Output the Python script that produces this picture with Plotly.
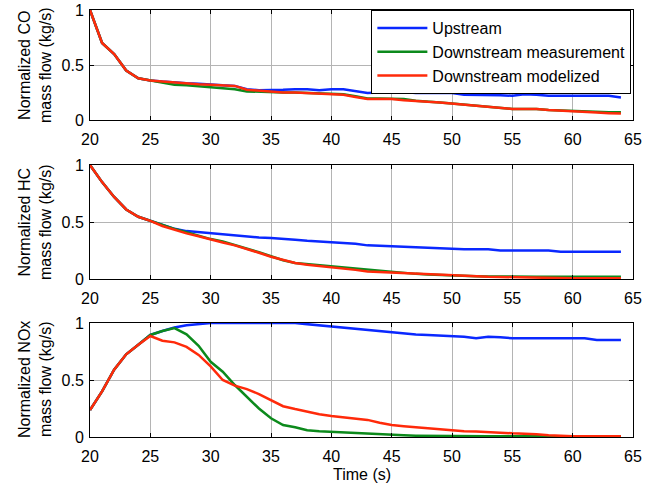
import plotly.graph_objects as go

time = list(range(20, 65))

co_upstream = [1.0, 0.70, 0.60, 0.45, 0.38, 0.36, 0.35, 0.34, 0.335, 0.33, 0.32, 0.315, 0.31, 0.28, 0.27,
               0.27, 0.275, 0.28, 0.28, 0.27, 0.28, 0.28, 0.26, 0.245, 0.25, 0.26, 0.255, 0.245, 0.245, 0.245,
               0.245, 0.23, 0.23, 0.23, 0.225, 0.22, 0.235, 0.23, 0.22, 0.22, 0.22, 0.22, 0.22, 0.22, 0.205]
co_down_meas = [1.0, 0.70, 0.60, 0.45, 0.38, 0.36, 0.34, 0.32, 0.315, 0.305, 0.295, 0.285, 0.28, 0.26, 0.255,
                0.25, 0.25, 0.25, 0.245, 0.24, 0.235, 0.235, 0.215, 0.195, 0.195, 0.195, 0.19, 0.175, 0.17, 0.16,
                0.15, 0.14, 0.13, 0.125, 0.115, 0.10, 0.10, 0.10, 0.09, 0.085, 0.083, 0.075, 0.07, 0.07, 0.07]
co_down_model = [1.0, 0.70, 0.60, 0.45, 0.38, 0.36, 0.35, 0.34, 0.335, 0.325, 0.32, 0.315, 0.31, 0.275, 0.265,
                 0.255, 0.25, 0.25, 0.245, 0.24, 0.23, 0.23, 0.21, 0.19, 0.19, 0.19, 0.18, 0.17, 0.165, 0.16,
                 0.15, 0.14, 0.13, 0.125, 0.115, 0.10, 0.10, 0.10, 0.09, 0.083, 0.08, 0.075, 0.068, 0.062, 0.058]

hc_upstream = [1.0, 0.85, 0.72, 0.61, 0.546, 0.51, 0.47, 0.44, 0.42, 0.41, 0.40, 0.39, 0.385, 0.375, 0.365,
               0.36, 0.355, 0.345, 0.335, 0.33, 0.325, 0.32, 0.31, 0.295, 0.29, 0.29, 0.28, 0.28, 0.275, 0.27,
               0.263, 0.26, 0.26, 0.26, 0.25, 0.25, 0.25, 0.25, 0.25, 0.24, 0.24, 0.24, 0.24, 0.24, 0.24]
hc_down_meas = [1.0, 0.85, 0.72, 0.61, 0.546, 0.51, 0.475, 0.44, 0.41, 0.38, 0.35, 0.33, 0.30, 0.27, 0.235,
                0.20, 0.165, 0.14, 0.13, 0.12, 0.115, 0.10, 0.09, 0.08, 0.07, 0.06, 0.055, 0.045, 0.04, 0.035,
                0.032, 0.03, 0.025, 0.022, 0.02, 0.02, 0.02, 0.02, 0.02, 0.02, 0.02, 0.02, 0.02, 0.02, 0.02]
hc_down_model = [1.0, 0.85, 0.72, 0.61, 0.546, 0.51, 0.465, 0.43, 0.40, 0.375, 0.345, 0.32, 0.295, 0.265, 0.23,
                 0.195, 0.165, 0.14, 0.125, 0.115, 0.105, 0.095, 0.08, 0.065, 0.06, 0.055, 0.05, 0.045, 0.04, 0.035,
                 0.032, 0.028, 0.022, 0.02, 0.018, 0.016, 0.012, 0.006, 0.006, 0.006, 0.006, 0.006, 0.006, 0.006, 0.006]

nox_upstream = [0.237, 0.40, 0.59, 0.725, 0.81, 0.895, 0.93, 0.96, 0.98, 0.99, 1.0, 1.0, 1.0, 1.0, 1.0,
                1.0, 1.0, 1.0, 0.99, 0.98, 0.97, 0.96, 0.95, 0.935, 0.925, 0.915, 0.91, 0.90, 0.895, 0.89,
                0.88, 0.88, 0.866, 0.88, 0.875, 0.866, 0.866, 0.866, 0.866, 0.866, 0.866, 0.866, 0.85, 0.85, 0.85]
nox_down_meas = [0.237, 0.40, 0.59, 0.725, 0.81, 0.895, 0.93, 0.955, 0.90, 0.80, 0.66, 0.573, 0.456, 0.354, 0.25,
                 0.164, 0.105, 0.085, 0.06, 0.05, 0.045, 0.04, 0.03, 0.025, 0.02, 0.017, 0.015, 0.012, 0.01, 0.008,
                 0.006, 0.006, 0.006, 0.006, 0.006, 0.006, 0.006, 0.006, 0.006, 0.006, 0.006, 0.006, 0.006, 0.006, 0.006]
nox_down_model = [0.237, 0.40, 0.59, 0.725, 0.81, 0.886, 0.845, 0.83, 0.79, 0.72, 0.62, 0.50, 0.45, 0.42, 0.377,
                  0.32, 0.27, 0.245, 0.22, 0.20, 0.185, 0.175, 0.164, 0.15, 0.125, 0.105, 0.095, 0.085, 0.075, 0.065,
                  0.055, 0.05, 0.048, 0.045, 0.038, 0.032, 0.03, 0.025, 0.015, 0.008, 0.006, 0.006, 0.006, 0.006, 0.006]

series_names = ["Upstream", "Downstream measurement", "Downstream modelized"]
colors = ["#0a28ff", "#0c8a1c", "#ff2a0a"]
panels = [
    ("Normalized CO<br>mass flow (kg/s)", [co_upstream, co_down_meas, co_down_model]),
    ("Normalized HC<br>mass flow (kg/s)", [hc_upstream, hc_down_meas, hc_down_model]),
    ("Normalized NOx<br>mass flow (kg/s)", [nox_upstream, nox_down_meas, nox_down_model]),
]
x_ticks = [20, 25, 30, 35, 40, 45, 50, 55, 60, 65]
y_ticks = [0, 0.5, 1]
y_ticklabels = ["0", "0.5", "1"]

FONT = "Liberation Sans, Arial, sans-serif"
FS = 16
W, H = 655, 485
ML, MR, MT, MB = 90, 22, 10, 48
ph = H - MT - MB
# panel pixel extents (top, bottom) in page px
panel_px = [(10, 120), (165, 279), (323, 437)]

fig = go.Figure()
layout = dict(
    width=W, height=H,
    margin=dict(l=ML, r=MR, t=MT, b=MB, pad=0, autoexpand=False),
    paper_bgcolor="white", plot_bgcolor="white",
    font=dict(family=FONT, size=FS, color="black"),
    showlegend=True,
    legend=dict(x=0.997, y=1.0, xanchor="right", yanchor="top",
                bordercolor="black", borderwidth=1, bgcolor="white",
                font=dict(family=FONT, size=FS, color="black"),
                tracegroupgap=0, itemwidth=50),
    annotations=[],
)

for i, (ytitle, ys) in enumerate(panels):
    n = i + 1
    xa = "x" if n == 1 else f"x{n}"
    ya = "y" if n == 1 else f"y{n}"
    for j, vals in enumerate(ys):
        fig.add_trace(go.Scatter(
            x=time, y=vals, mode="lines", name=series_names[j],
            line=dict(color=colors[j], width=2.5),
            xaxis=xa, yaxis=ya, showlegend=(n == 1), legendgroup=f"g{j}",
        ))
    top, bot = panel_px[i]
    dom = [(H - MB - bot) / ph, (H - MB - top) / ph]
    axcommon = dict(showline=True, linecolor="black", linewidth=1, mirror="ticks",
                    ticks="inside", ticklen=4, tickcolor="black", tickwidth=1,
                    showgrid=True, gridcolor="#b4b4b4", gridwidth=1, zeroline=False,
                    automargin=False,
                    tickfont=dict(family=FONT, size=FS, color="black"))
    layout["xaxis" if n == 1 else f"xaxis{n}"] = dict(
        domain=[0, 1], range=[20, 65], tickvals=x_ticks, anchor=ya,
        ticklabelstandoff=5, **axcommon)
    layout["yaxis" if n == 1 else f"yaxis{n}"] = dict(
        domain=dom, range=[0, 1], tickvals=y_ticks, ticktext=y_ticklabels, anchor=xa,
        ticklabelstandoff=2, **axcommon)
    layout["annotations"].append(dict(
        text=ytitle, xref="paper", yref="paper",
        x=(35 - ML) / (W - ML - MR), y=(dom[0] + dom[1]) / 2,
        xanchor="center", yanchor="middle", textangle=-90, showarrow=False,
        font=dict(family=FONT, size=FS, color="black")))

layout["annotations"].append(dict(
    text="Time (s)", xref="paper", yref="paper",
    x=0.5, y=(H - MB - 474) / ph, xanchor="center", yanchor="middle",
    showarrow=False, font=dict(family=FONT, size=FS, color="black")))

fig.update_layout(**layout)
fig.write_html("out.html")
